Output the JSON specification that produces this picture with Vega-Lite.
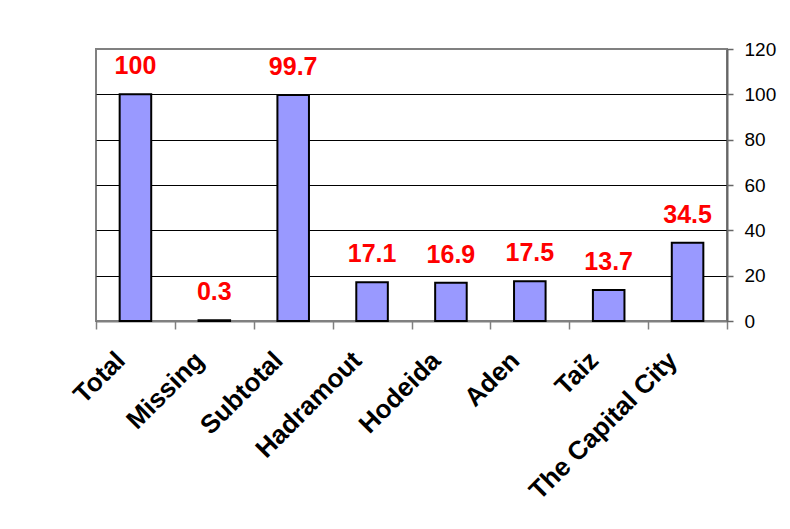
{
  "$schema": "https://vega.github.io/schema/vega-lite/v6.json",
  "width": 631,
  "height": 272,
  "autosize": {"type": "none"},
  "padding": {"left": 96, "top": 49, "right": 63, "bottom": 208},
  "background": "white",
  "data": {
    "values": [
      {"region": "Total", "value": 100},
      {"region": "Missing", "value": 0.3},
      {"region": "Subtotal", "value": 99.7},
      {"region": "Hadramout", "value": 17.1},
      {"region": "Hodeida", "value": 16.9},
      {"region": "Aden", "value": 17.5},
      {"region": "Taiz", "value": 13.7},
      {"region": "The Capital City", "value": 34.5}
    ]
  },
  "encoding": {
    "x": {
      "field": "region",
      "type": "nominal",
      "sort": null,
      "scale": {"paddingInner": 0, "paddingOuter": 0},
      "axis": {
        "title": null,
        "orient": "bottom",
        "labelAngle": -45,
        "labelAlign": "right",
        "labelBaseline": "middle",
        "labelFont": "Liberation Sans",
        "labelFontSize": 26,
        "labelFontWeight": "bold",
        "labelColor": "black",
        "labelLimit": 400,
        "labelPadding": 27,
        "labelOffset": -15,
        "tickBand": "extent",
        "tickSize": 8,
        "tickColor": "#808080",
        "tickWidth": 1.5,
        "domainColor": "#808080",
        "domainWidth": 2,
        "grid": false
      }
    },
    "y": {
      "field": "value",
      "type": "quantitative",
      "scale": {"domain": [0, 120], "nice": false},
      "axis": {
        "title": null,
        "orient": "right",
        "values": [0, 20, 40, 60, 80, 100, 120],
        "grid": true,
        "gridColor": {"condition": {"test": "datum.value === 120", "value": "#808080"}, "value": "black"},
        "gridWidth": 1,
        "domainColor": "#666666",
        "domainWidth": 2,
        "tickColor": "#666666",
        "tickWidth": 1.5,
        "tickSize": 6,
        "labelFont": "Liberation Sans",
        "labelFontSize": 19,
        "labelColor": "black",
        "labelPadding": 11
      }
    }
  },
  "layer": [
    {
      "mark": {"type": "bar", "fill": "#9999FF", "stroke": "black", "strokeWidth": 2, "width": {"band": 0.4}}
    },
    {
      "mark": {
        "type": "text",
        "color": "#FF0000",
        "font": "Liberation Sans",
        "fontWeight": "bold",
        "fontSize": 25,
        "baseline": "alphabetic",
        "dy": -20
      },
      "encoding": {"text": {"field": "value", "type": "quantitative"}}
    }
  ],
  "config": {"view": {"stroke": "#808080", "strokeWidth": 2}}
}
